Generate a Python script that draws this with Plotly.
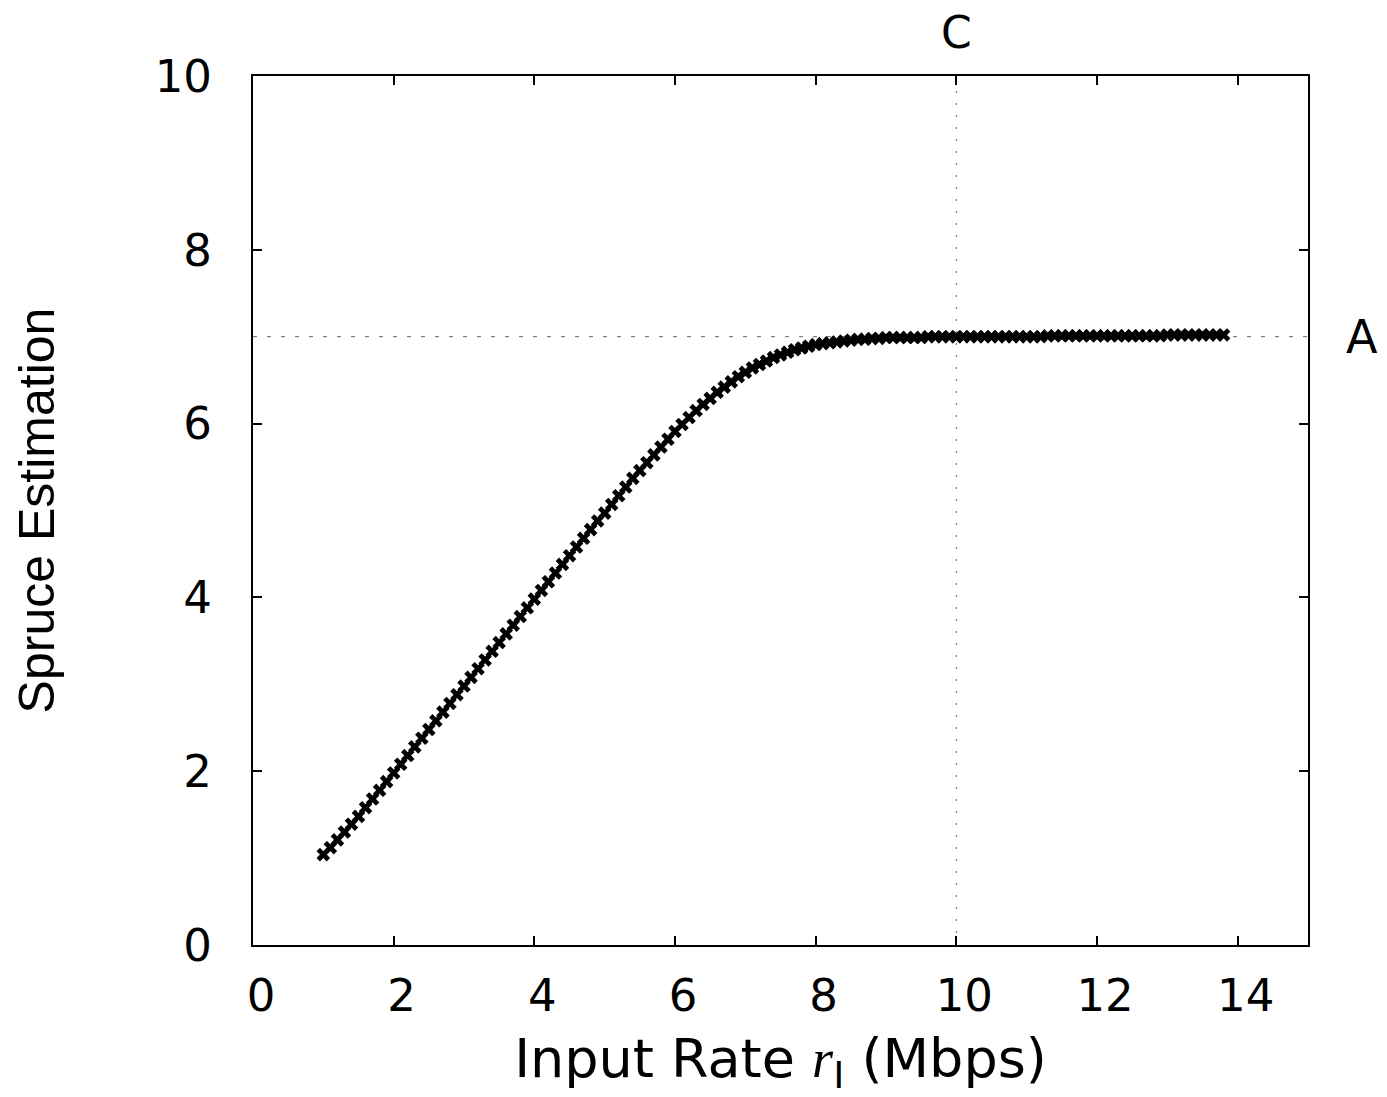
import plotly.graph_objects as go

# Data
input_rate = [round(1.0 + 0.1 * i, 1) for i in range(129)]  # 1.0 .. 13.8 (x positions of samples)
spruce_est = [
    1.04, 1.12, 1.21, 1.30, 1.39, 1.48, 1.58, 1.68, 1.78, 1.88,   # 1.0-1.9
    1.98, 2.08, 2.18, 2.28, 2.38, 2.48, 2.58, 2.68, 2.78, 2.88,   # 2.0-2.9
    2.98, 3.08, 3.18, 3.28, 3.38, 3.48, 3.58, 3.68, 3.78, 3.88,   # 3.0-3.9
    3.98, 4.08, 4.18, 4.28, 4.38, 4.48, 4.58, 4.68, 4.78, 4.88,   # 4.0-4.9
    4.97, 5.07, 5.17, 5.27, 5.37, 5.46, 5.55, 5.64, 5.73, 5.82,   # 5.0-5.9
    5.91, 5.99, 6.07, 6.15, 6.22, 6.29, 6.36, 6.42, 6.48, 6.54,   # 6.0-6.9
    6.59, 6.64, 6.68, 6.72, 6.76, 6.79, 6.82, 6.85, 6.87, 6.89,   # 7.0-7.9
    6.91, 6.92, 6.93, 6.94, 6.95, 6.96, 6.97, 6.97, 6.98, 6.98,   # 8.0-8.9
    6.99, 6.99, 6.99, 6.99, 6.99, 6.99, 7.00, 7.00, 7.00, 7.00,   # 9.0-9.9
    7.00, 7.00, 7.00, 7.00, 7.00, 7.00, 7.00, 7.00, 7.00, 7.00,   # 10.0-10.9
    7.00, 7.00, 7.00, 7.01, 7.01, 7.01, 7.01, 7.01, 7.01, 7.01,   # 11.0-11.9
    7.01, 7.01, 7.01, 7.01, 7.01, 7.01, 7.01, 7.01, 7.01, 7.01,   # 12.0-12.9
    7.02, 7.02, 7.02, 7.02, 7.02, 7.02, 7.02, 7.02, 7.02,         # 13.0-13.8
]
x_ticks = [0, 2, 4, 6, 8, 10, 12, 14]
y_ticks = [0, 2, 4, 6, 8, 10]
capacity_C = 10
available_A = 7

WIDE = "DejaVu Sans, sans-serif"
NARROW = "Liberation Sans, Arial, sans-serif"

fig = go.Figure()
fig.add_trace(go.Scatter(
    x=input_rate, y=spruce_est, mode="markers",
    marker=dict(symbol="x", size=12, color="black", line=dict(width=0)),
    showlegend=False, cliponaxis=False,
))

# reference lines
fig.add_shape(type="line", xref="x", yref="y", x0=0, x1=15, y0=available_A, y1=available_A,
              line=dict(color="#666666", width=1, dash="4px,10px"), layer="below")
fig.add_shape(type="line", xref="x", yref="y", x0=capacity_C, x1=capacity_C, y0=0, y1=10,
              line=dict(color="#666666", width=1, dash="2px,10px"), layer="below")

fig.add_annotation(x=capacity_C, y=1.0, xref="x", yref="paper", yanchor="middle", yshift=44,
                   text="C", showarrow=False, font=dict(size=44, color="black", family=WIDE))
fig.add_annotation(x=1.0, y=available_A, xref="paper", yref="y", xanchor="left", xshift=36,
                   text="A", showarrow=False, font=dict(size=46, color="black", family=WIDE))

axis_common = dict(
    showgrid=False, zeroline=False, showline=True, linecolor="black", linewidth=2,
    mirror="ticks", ticks="inside", ticklen=9, tickwidth=1.5, tickcolor="black",
    tickfont=dict(size=45, color="black", family=WIDE),
)
fig.update_xaxes(range=[0, 15], tickvals=x_ticks, ticklabelstandoff=10, ticklabelshift=8,
                 title=dict(text="Input Rate <span style='font-family:Liberation Serif'><i>r</i></span><sub>I</sub> (Mbps)",
                            font=dict(size=54, color="black", family=WIDE), standoff=20),
                 **axis_common)
fig.update_yaxes(range=[0, 10], tickvals=y_ticks, ticklabelstandoff=30,
                 title=dict(text="Spruce Estimation", font=dict(size=50, color="black", family=NARROW), standoff=84),
                 **axis_common)

# the page adds an 8px body margin, so the figure is laid out 8px smaller
fig.update_layout(
    width=1379, height=1089,
    margin=dict(l=245, r=79, t=68, b=152, autoexpand=False),
    paper_bgcolor="white", plot_bgcolor="white",
)

fig.write_html("out.html")
